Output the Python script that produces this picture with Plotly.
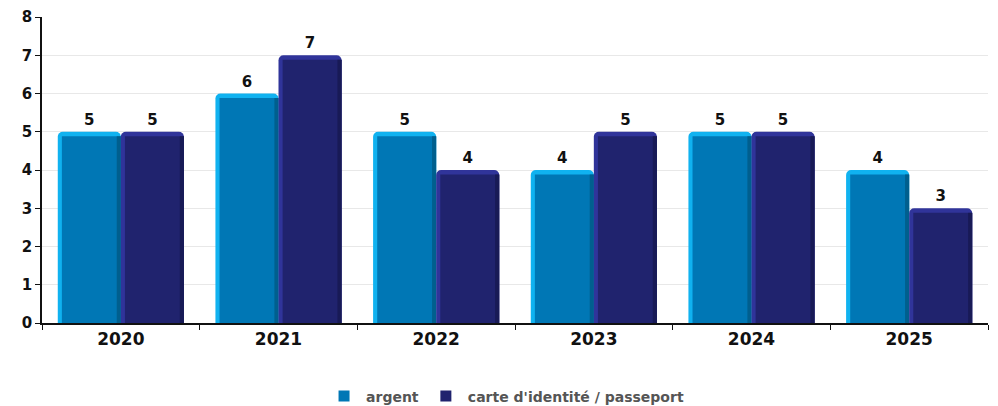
import plotly.graph_objects as go

years = ["2020", "2021", "2022", "2023", "2024", "2025"]
argent = [5, 6, 5, 4, 5, 4]
carte = [5, 7, 4, 5, 5, 3]
series_names = ["argent", "carte d'identité / passeport"]
y_ticks = [0, 1, 2, 3, 4, 5, 6, 7, 8]

BAR_W = 0.4
EDGE_W = 0.026
CAP = 0.12
FONT = "DejaVu Sans"
COLORS = ["#0077b5", "#20236e"]
LIGHT = ["#10b2f0", "#30349a"]
DARK = ["#005f8e", "#181a56"]

fig = go.Figure()

for vals, off, col, light, dark in [
    (argent, -BAR_W, COLORS[0], LIGHT[0], DARK[0]),
    (carte, 0, COLORS[1], LIGHT[1], DARK[1]),
]:
    # full-height light body gives the bevelled left edge and top cap
    fig.add_trace(go.Bar(
        x=years, y=vals, offset=off, width=BAR_W, showlegend=False,
        marker=dict(color=light, line=dict(width=0), cornerradius=5),
        text=vals, textposition="outside", cliponaxis=False,
        textfont=dict(family=FONT, size=15, color="#111111"),
        hoverinfo="skip",
    ))
    # main face
    fig.add_trace(go.Bar(
        x=years, y=[v - CAP for v in vals], offset=off + EDGE_W,
        width=BAR_W - EDGE_W, showlegend=False,
        marker=dict(color=col, line=dict(width=0)),
        hovertext=vals, hoverinfo="x+text",
    ))
    # darker right edge
    fig.add_trace(go.Bar(
        x=years, y=[v - CAP for v in vals], offset=off + BAR_W - EDGE_W,
        width=EDGE_W, showlegend=False,
        marker=dict(color=dark, line=dict(width=0)),
        hoverinfo="skip",
    ))

# legend entries with square swatches
for name, col in zip(series_names, COLORS):
    fig.add_trace(go.Scatter(
        x=[None], y=[None], mode="markers", name=name,
        marker=dict(symbol="square", size=11, color=col),
    ))

fig.update_layout(
    width=998, height=406,
    margin=dict(l=42, r=10, t=17, b=83, autoexpand=False),
    plot_bgcolor="white", paper_bgcolor="white",
    barmode="overlay",
    font=dict(family=FONT, size=15, color="#111111", weight="bold"),
    legend=dict(
        orientation="h", x=0.49, xanchor="center", y=-0.24, yanchor="middle",
        font=dict(family=FONT, size=14, color="#555555", weight="bold"),
        itemwidth=34,
    ),
    showlegend=True,
)
fig.update_xaxes(
    type="category", showline=True, linecolor="#111111", linewidth=1.5,
    ticks="outside", tickson="boundaries", ticklen=5, tickcolor="#111111",
    showgrid=False,
    tickfont=dict(family=FONT, size=17, color="#111111", weight="bold"),
)
fig.update_yaxes(
    range=[0, 8], tickvals=y_ticks, showline=True, linecolor="#111111", linewidth=1.5,
    ticks="outside", ticklen=5, tickcolor="#111111",
    gridcolor="#e8e8e8", zeroline=False,
    tickfont=dict(family=FONT, size=15, color="#111111", weight="bold"),
)

fig.write_html("out.html")
